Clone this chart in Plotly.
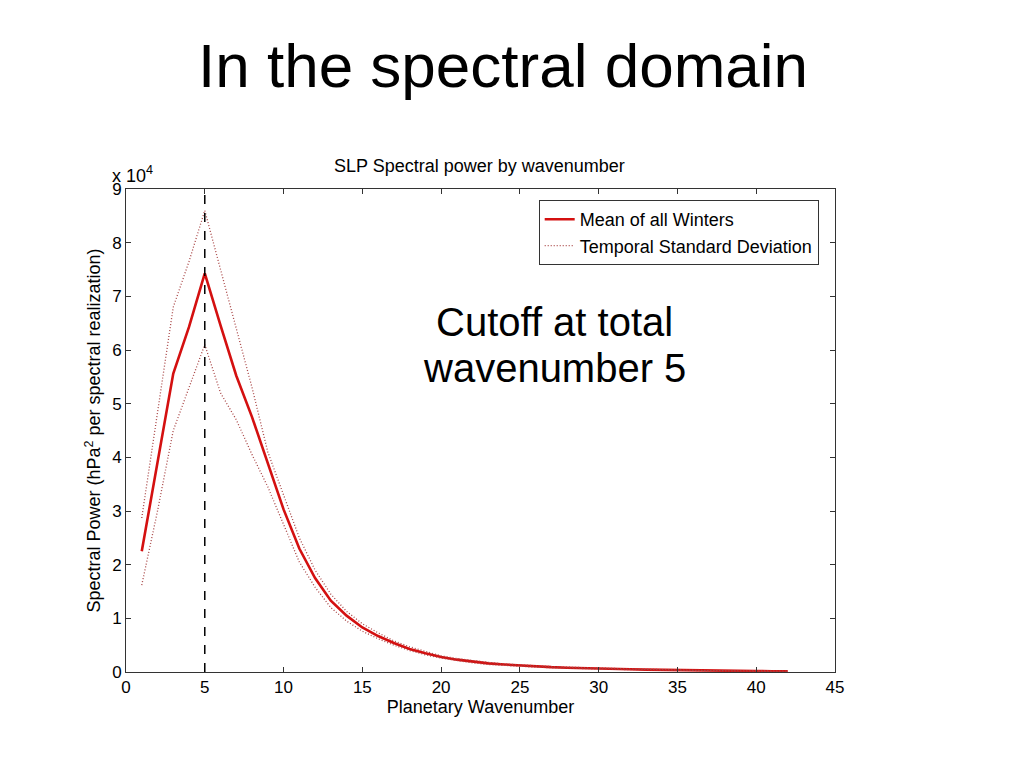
import plotly.graph_objects as go

wavenumber = list(range(1, 43))
mean_all = [2.25, 3.90, 5.56, 6.43, 7.43, 6.46, 5.52, 4.75, 3.88, 3.03,
            2.30, 1.75, 1.33, 1.05, 0.83, 0.67, 0.54, 0.43, 0.35, 0.28,
            0.23, 0.19, 0.16, 0.14, 0.12, 0.10, 0.09, 0.08, 0.07, 0.06,
            0.055, 0.05, 0.045, 0.04, 0.03, 0.025, 0.022, 0.02, 0.018, 0.016, 0.015, 0.014]
std_upper = [2.87, 4.85, 6.80, 7.65, 8.60, 7.50, 6.40, 5.30, 4.10, 3.30,
             2.50, 1.90, 1.45, 1.13, 0.90, 0.73, 0.58, 0.47, 0.38, 0.30,
             0.25, 0.21, 0.18, 0.15, 0.13, 0.11, 0.10, 0.09, 0.08, 0.07,
             0.06, 0.055, 0.05, 0.045, 0.035, 0.03, 0.026, 0.023, 0.021, 0.019, 0.018, 0.016]
std_lower = [1.62, 3.00, 4.50, 5.30, 6.10, 5.20, 4.70, 4.05, 3.45, 2.75,
             2.05, 1.58, 1.20, 0.95, 0.76, 0.62, 0.50, 0.40, 0.32, 0.26,
             0.21, 0.17, 0.14, 0.12, 0.11, 0.09, 0.08, 0.07, 0.06, 0.05,
             0.05, 0.045, 0.04, 0.035, 0.025, 0.02, 0.018, 0.017, 0.015, 0.013, 0.012, 0.012]
cutoff = 5
x_ticks = [0, 5, 10, 15, 20, 25, 30, 35, 40, 45]
y_ticks = [0, 1, 2, 3, 4, 5, 6, 7, 8, 9]

FONT = "Liberation Sans, Arial, sans-serif"
fig = go.Figure()
fig.add_trace(go.Scatter(x=wavenumber, y=mean_all, mode="lines", name="Mean of all Winters",
                         line=dict(color="#d41010", width=2.6)))
fig.add_trace(go.Scatter(x=wavenumber, y=std_upper, mode="lines", name="Temporal Standard Deviation",
                         line=dict(color="#a84444", width=1.3, dash="1px,2px")))
fig.add_trace(go.Scatter(x=wavenumber, y=std_lower, mode="lines", showlegend=False,
                         line=dict(color="#a84444", width=1.3, dash="1px,2px")))
fig.add_shape(type="line", x0=cutoff, x1=cutoff, y0=0, y1=9, xref="x", yref="y",
              line=dict(color="black", width=1.5, dash="dash"))

axis_common = dict(showgrid=False, zeroline=False, showline=True, linecolor="#333",
                   linewidth=1, mirror="ticks", ticks="inside", ticklen=5, tickcolor="#333",
                   tickfont=dict(family=FONT, size=17, color="black"))
fig.update_xaxes(range=[0, 45], tickvals=x_ticks, **axis_common,
                 title=dict(text="Planetary Wavenumber", font=dict(family=FONT, size=18, color="black"), standoff=2))
fig.update_yaxes(range=[0, 9], tickvals=y_ticks, **axis_common,
                 title=dict(text="Spectral Power (hPa<sup>2</sup> per spectral realization)",
                            font=dict(family=FONT, size=18, color="black"), standoff=6))

fig.add_annotation(text="In the spectral domain", xref="paper", yref="paper", x=0.532, y=1, yshift=124,
                   xanchor="center", yanchor="middle", showarrow=False,
                   font=dict(family=FONT, size=62, color="black"))
fig.add_annotation(text="SLP Spectral power by wavenumber", xref="paper", yref="paper", x=0.498, y=1, yshift=11,
                   xanchor="center", yanchor="bottom", showarrow=False,
                   font=dict(family=FONT, size=18, color="black"))
fig.add_annotation(text="x 10<sup>4</sup>", xref="paper", yref="paper", x=0, y=1, xshift=-16, yshift=1,
                   xanchor="left", yanchor="bottom", showarrow=False,
                   font=dict(family=FONT, size=18, color="black"))
fig.add_annotation(text="Cutoff at total", xref="x", yref="y", x=27.2, y=6.52,
                   xanchor="center", yanchor="middle", showarrow=False,
                   font=dict(family=FONT, size=40, color="black"))
fig.add_annotation(text="wavenumber 5", xref="x", yref="y", x=27.2, y=5.66,
                   xanchor="center", yanchor="middle", showarrow=False,
                   font=dict(family=FONT, size=40, color="black"))

fig.update_layout(width=1024, height=768, margin=dict(l=118, r=197, t=181, b=104),
                  paper_bgcolor="white", plot_bgcolor="white",
                  legend=dict(x=0.977, y=0.977, xanchor="right", yanchor="top",
                              bordercolor="#333", borderwidth=1, bgcolor="white",
                              font=dict(family=FONT, size=18, color="black"),
                              tracegroupgap=0, itemwidth=30))
fig.write_html("out.html")
